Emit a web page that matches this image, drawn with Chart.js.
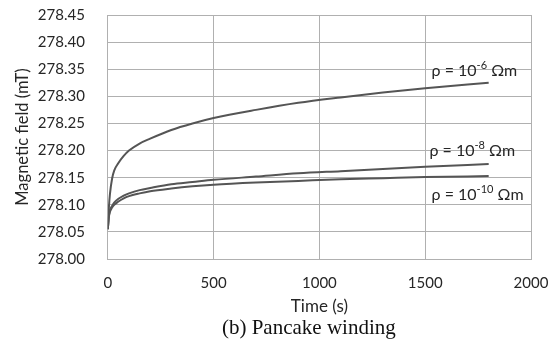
<!DOCTYPE html>
<html>
<head>
<meta charset="utf-8">
<script src="https://cdn.jsdelivr.net/npm/chart.js@4"></script>
<style>
  html, body { margin: 0; padding: 0; background: #fff; }
  #wrap { width: 559px; height: 340px; }
</style>
</head>
<body>
<div id="wrap"><canvas id="myChart"></canvas></div>
<script>
// time points (s)
const times = [0, 5, 10, 20, 30, 50, 75, 100, 150, 200, 300, 400, 500, 700, 900, 1100, 1300, 1500, 1800];
// magnetic field (mT) for each resistivity
const rho6 = [278.055, 278.095, 278.12, 278.148, 278.163, 278.177, 278.19, 278.2, 278.213, 278.222, 278.238, 278.25, 278.26, 278.275, 278.288, 278.298, 278.307, 278.315, 278.325];
const rho8 = [278.055, 278.08, 278.09, 278.098, 278.104, 278.111, 278.117, 278.121, 278.127, 278.131, 278.138, 278.142, 278.146, 278.152, 278.158, 278.162, 278.166, 278.17, 278.175];
const rho10 = [278.055, 278.078, 278.087, 278.095, 278.1, 278.106, 278.112, 278.116, 278.121, 278.125, 278.13, 278.134, 278.137, 278.141, 278.144, 278.147, 278.149, 278.151, 278.153];
const seriesLabels = [['ρ = 10', '-6', ' Ωm'], ['ρ = 10', '-8', ' Ωm'], ['ρ = 10', '-10', ' Ωm']];
// where the labels sit, in data units
const labelX = [1530, 1520, 1530];
const labelY = [278.347, 278.2, 278.119];
const caption = '(b) Pancake winding';

const pts = (arr) => times.map((t, i) => ({ x: t, y: arr[i] }));
const lineStyle = {
    borderColor: '#555555',
    borderWidth: 2,
    pointRadius: 0,
    fill: false,
    cubicInterpolationMode: 'monotone'
};

const curveLabels = {
    id: 'curveLabels',
    afterDatasetsDraw(chart) {
        const c = chart.ctx;
        const xs = chart.scales.x, ys = chart.scales.y;
        c.save();
        c.fillStyle = '#262626';
        c.textBaseline = 'middle';
        seriesLabels.forEach((parts, i) => {
            let x = xs.getPixelForValue(labelX[i]);
            const y = ys.getPixelForValue(labelY[i]);
            c.font = '16px Lato';
            c.fillText(parts[0], x, y);
            x += c.measureText(parts[0]).width;
            c.font = '11px Lato';
            c.fillText(parts[1], x, y - 5);
            x += c.measureText(parts[1]).width;
            c.font = '16px Lato';
            c.fillText(parts[2], x, y);
        });
        // figure caption, a little left of the plot centre like the source figure
        c.font = '21px "Liberation Serif"';
        c.fillStyle = '#111';
        c.textAlign = 'center';
        c.fillText(caption, xs.getPixelForValue(950), chart.height - 12);
        c.restore();
    }
};

function draw() {
    const ctx = document.getElementById('myChart').getContext('2d');
    const myChart = new Chart(ctx, {
        type: 'line',
        data: {
            datasets: [
                { label: 'rho 1e-6', data: pts(rho6), ...lineStyle },
                { label: 'rho 1e-8', data: pts(rho8), ...lineStyle },
                { label: 'rho 1e-10', data: pts(rho10), ...lineStyle }
            ]
        },
        options: {
            responsive: true,
            maintainAspectRatio: false,
            animation: false,
            layout: { padding: { top: 15, right: 28, left: 13, bottom: 25 } },
            plugins: {
                legend: { display: false },
                tooltip: { enabled: false }
            },
            scales: {
                x: {
                    type: 'linear',
                    min: 0,
                    max: 2000,
                    ticks: { stepSize: 500, color: '#262626', font: { family: 'Lato', size: 15 }, padding: 0, maxRotation: 0,
                        callback: (v) => String(v) },
                    // invisible tick marks give the gap between axis and labels
                    grid: { color: '#b0b0b0', drawTicks: true, tickLength: 15, tickColor: 'rgba(0,0,0,0)' },
                    border: { color: '#b0b0b0' },
                    title: { display: true, text: 'Time (s)', color: '#262626', font: { family: 'Lato', size: 17, lineHeight: 1.0 }, padding: { top: 6, bottom: 0 } }
                },
                y: {
                    min: 278.0,
                    max: 278.45,
                    ticks: { stepSize: 0.05, color: '#262626', font: { family: 'Lato', size: 15 }, padding: 0,
                        callback: (v) => v.toFixed(2) },
                    grid: { color: '#b0b0b0', drawTicks: true, tickLength: 23, tickColor: 'rgba(0,0,0,0)' },
                    border: { color: '#b0b0b0' },
                    title: { display: true, text: 'Magnetic field (mT)', color: '#262626', font: { family: 'Lato', size: 16.5 }, padding: { top: 0, bottom: 5 } }
                }
            }
        },
        plugins: [curveLabels]
    });
}

Promise.all([
    document.fonts.load('15px Lato'),
    document.fonts.load('21px "Liberation Serif"')
]).then(draw, draw);
</script>
</body>
</html>
